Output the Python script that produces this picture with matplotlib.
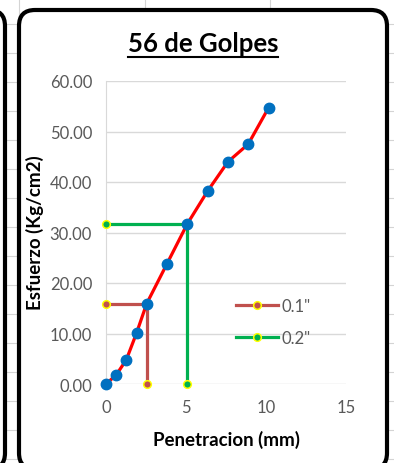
import matplotlib.pyplot as plt
from matplotlib.patches import FancyBboxPatch
from matplotlib.lines import Line2D

# curva esfuerzo - penetracion, 56 golpes
penetracion = [0.0, 0.64, 1.27, 1.91, 2.54, 3.81, 5.08, 6.35, 7.62, 8.89, 10.16]
esfuerzo = [0.0, 1.8, 4.8, 10.1, 15.9, 23.8, 31.7, 38.2, 44.0, 47.5, 54.7]

# lectura a 0.1" y 0.2"
pen_01 = [0.0, 2.54, 2.54]
esf_01 = [15.9, 15.9, 0.0]
pen_02 = [0.0, 5.08, 5.08]
esf_02 = [31.7, 31.7, 0.0]

W, H = 394, 464
fig = plt.figure(figsize=(W / 100, H / 100), dpi=100)
fig.patch.set_facecolor('white')


def fx(x):
    return x / W


def fy(y):
    return 1 - y / H


# rejilla de la hoja de calculo
grid_c = '#d4d4d4'
for y in range(25, H, 29):
    fig.add_artist(Line2D([0, 1], [fy(y), fy(y)], transform=fig.transFigure,
                          color=grid_c, lw=0.8, zorder=0))
for x in [19, 145, 270]:
    fig.add_artist(Line2D([fx(x), fx(x)], [0, 1], transform=fig.transFigure,
                          color=grid_c, lw=0.8, zorder=0))

# recuadros redondeados
r = 16
izq = FancyBboxPatch((fx(-120), fy(470)), fx(125), 459 / H,
                     boxstyle='round,pad=0,rounding_size=%f' % (r / W),
                     transform=fig.transFigure, fc='white', ec='black',
                     lw=3, zorder=1, mutation_aspect=W / H)
fig.add_artist(izq)
caja = FancyBboxPatch((fx(19), fy(470)), fx(368), 459 / H,
                      boxstyle='round,pad=0,rounding_size=%f' % (r / W),
                      transform=fig.transFigure, fc='white', ec='black',
                      lw=3, zorder=1, mutation_aspect=W / H)
fig.add_artist(caja)

ax = fig.add_axes([fx(106), fy(385), fx(240), (385 - 82) / H])
ax.set_zorder(2)
ax.patch.set_alpha(0)

fuente = 'Lato'
gris = '#595959'

ax.plot(pen_01, esf_01, color='#c0504d', lw=2.3, marker='o', ms=5.5,
        mfc='#c0504d', mec='#ffff00', mew=1.1, label='0.1"', zorder=3, clip_on=False)
ax.plot(pen_02, esf_02, color='#00b050', lw=2.3, marker='o', ms=5.5,
        mfc='#00b050', mec='#ffff00', mew=1.1, label='0.2"', zorder=3, clip_on=False)
ax.plot(penetracion, esfuerzo, color='#ff0000', lw=2.3, marker='o', ms=7.5,
        mfc='#0070c0', mec='#0070c0', zorder=4, clip_on=False)

ax.set_xlim(0, 15)
ax.set_ylim(0, 60)
ax.set_xticks([0, 5, 10, 15])
ax.set_yticks(range(0, 61, 10))
ax.set_yticklabels(['%.2f' % v for v in range(0, 61, 10)])
ax.grid(axis='y', color='#d9d9d9', lw=1)
ax.set_axisbelow(True)
for s in ['top', 'right', 'bottom']:
    ax.spines[s].set_visible(False)
ax.spines['left'].set_color('#d9d9d9')
ax.tick_params(length=0, labelsize=12, colors=gris, pad=10)
ax.tick_params(axis='x', pad=11)
for t in ax.get_xticklabels() + ax.get_yticklabels():
    t.set_fontfamily(fuente)

leg = ax.legend(loc='center left', frameon=False,
                prop={'family': fuente, 'size': 12}, handlelength=2.5,
                labelspacing=0.95, handletextpad=0.2, borderaxespad=0,
                borderpad=0)
leg.set_bbox_to_anchor((fx(236), fy(323)), transform=fig.transFigure)
for t in leg.get_texts():
    t.set_color(gris)

titulo = fig.text(fx(203), fy(44), '56 de Golpes', ha='center', va='center',
                  fontsize=18.5, fontweight='bold', family=fuente, zorder=3)
fig.text(fx(35), fy(233), 'Esfuerzo (Kg/cm2)', rotation=90, ha='center',
         va='center', fontsize=13.5, fontweight='bold', family=fuente, zorder=3)
fig.text(fx(226), fy(440), 'Penetracion (mm)', ha='center', va='center',
         fontsize=13.5, fontweight='bold', family=fuente, zorder=3)

# subrayado del titulo
fig.canvas.draw()
bb = titulo.get_window_extent().transformed(fig.transFigure.inverted())
fig.add_artist(Line2D([bb.x0, bb.x1], [fy(58), fy(58)], transform=fig.transFigure,
                      color='black', lw=1.5, zorder=3))

fig.savefig('out.png', dpi=100)
